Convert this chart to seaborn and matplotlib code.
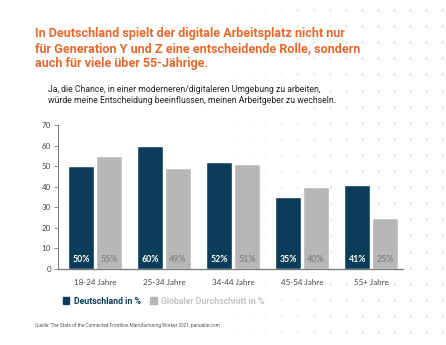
import numpy as np
import pandas as pd
import matplotlib
matplotlib.use("Agg")
import matplotlib.pyplot as plt
import seaborn as sns
from matplotlib.patches import Patch

categories = ["18-24 Jahre", "25-34 Jahre", "34-44 Jahre", "45-54 Jahre", "55+ Jahre"]
deutschland = [50, 60, 52, 35, 41]
global_avg = [55, 49, 51, 40, 25]
series_names = ["Deutschland in %", "Globaler Durchschnitt in %"]
y_ticks = [0, 10, 20, 30, 40, 50, 60, 70]

title = ("In Deutschland spielt der digitale Arbeitsplatz nicht nur\n"
         "für Generation Y und Z eine entscheidende Rolle, sondern\n"
         "auch für viele über 55-Jährige.")
subtitle = ("Ja, die Chance, in einer moderneren/digitaleren Umgebung zu arbeiten,\n"
            "würde meine Entscheidung beeinflussen, meinen Arbeitgeber zu wechseln.")
source = "Quelle: The State of the Connected Frontline Manufacturing Worker 2021, parsable.com"

NAVY = "#0b3c5a"
GRAY = "#b7b7b7"
ORANGE = "#e8692e"

df = pd.DataFrame({
    "Alter": categories * 2,
    "Wert": deutschland + global_avg,
    "Serie": [series_names[0]] * len(categories) + [series_names[1]] * len(categories),
})

sns.set_theme(style="white")
plt.rcParams["font.family"] = ["Lato", "DejaVu Sans"]

fig = plt.figure(figsize=(4.46, 3.45), dpi=100)
fig.patch.set_facecolor("white")

# decorative dot pattern (background)
bg = fig.add_axes([0, 0, 1, 1], zorder=-10)
bg.set_xlim(0, 446)
bg.set_ylim(345, 0)
bg.axis("off")
xs = np.arange(233, 450, 16.1)
ys = np.arange(10, 345, 16.1)
for x in xs:
    a = min(1.0, max(0.0, (x - 225) / 130))
    bg.scatter([x] * len(ys), ys, s=4.5, color="#e1e8f1", alpha=a, linewidths=0)

ax = fig.add_axes([58 / 446, 76 / 345, (403 - 58) / 446, (269 - 125) / 345])
ax.set_facecolor("none")
sns.barplot(data=df, x="Alter", y="Wert", hue="Serie", order=categories,
            hue_order=series_names, palette=[NAVY, GRAY], width=0.8, gap=0.06,
            saturation=1, ax=ax, legend=False)

ax.set_xlim(-0.54, 4.46)
ax.set_ylim(0, 70)
ax.set_yticks(y_ticks)
ax.set_xlabel("")
ax.set_ylabel("")
for s in ["top", "right"]:
    ax.spines[s].set_visible(False)
ax.spines["left"].set_color("#777777")
ax.spines["bottom"].set_color("#777777")
ax.spines["left"].set_linewidth(0.7)
ax.spines["bottom"].set_linewidth(0.9)
ax.tick_params(axis="y", length=3, width=0.6, color="#777777", labelsize=5.8,
               labelcolor="#444444", pad=2, left=True)
ax.tick_params(axis="x", length=0, labelsize=5.8, labelcolor="#444444", pad=7)

# value labels inside bars
for i, cont in enumerate(ax.containers):
    vals = deutschland if i == 0 else global_avg
    col = "white" if i == 0 else "#858585"
    for bar, v in zip(cont, vals):
        ax.text(bar.get_x() + bar.get_width() / 2, 2.2, f"{v}%", ha="center",
                va="bottom", fontsize=6.3, fontweight="bold", color=col)

fig.text(35 / 446, 1 - 27 / 345, title, ha="left", va="top", fontsize=9.05,
         fontweight="bold", color=ORANGE, family=["Roboto", "DejaVu Sans"],
         linespacing=1.2)
fig.text(48 / 446, 1 - 85 / 345, subtitle, ha="left", va="top", fontsize=6.2,
         color="#222222", family=["Roboto", "DejaVu Sans"], linespacing=1.25)

# legend
handles = [Patch(color=NAVY), Patch(color=GRAY)]
leg = fig.legend(handles, series_names, loc="center left",
                 bbox_to_anchor=(55 / 446, 1 - 301 / 345), ncol=2, frameon=False,
                 handlelength=0.75, handleheight=0.75, handletextpad=0.5,
                 columnspacing=1.1, prop={"size": 6.3, "weight": "bold",
                                          "family": ["Roboto", "DejaVu Sans"]})
texts = leg.get_texts()
texts[0].set_color(NAVY)
texts[1].set_color("#c4c4c4")

fig.text(35 / 446, 1 - 325 / 345, source, ha="left", va="center", fontsize=3.4,
         color="#555555", family=["Roboto", "DejaVu Sans"])

fig.savefig("out.png", dpi=100, facecolor="white")
